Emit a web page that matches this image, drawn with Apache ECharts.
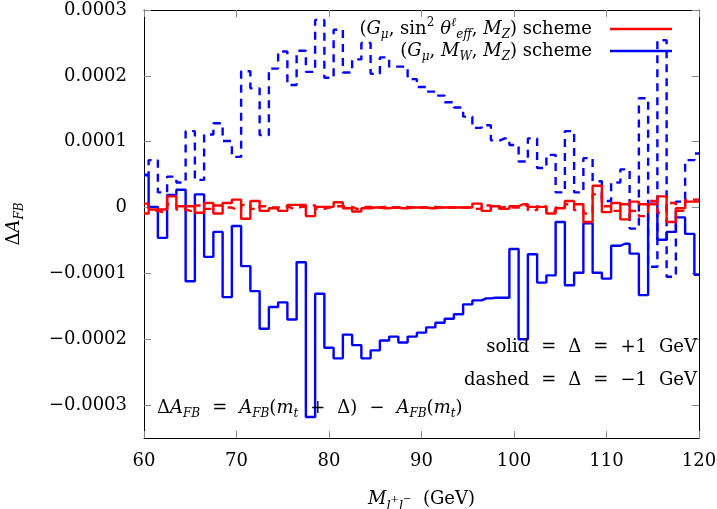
<!DOCTYPE html>
<html>
<head>
<meta charset="utf-8">
<script src="https://cdn.jsdelivr.net/npm/echarts@6/dist/echarts.min.js"></script>
<style>html,body{margin:0;padding:0;background:#fff}#c{width:717px;height:509px}</style>
</head>
<body>
<div id="c"></div>
<script>
// bin centres (GeV); bins are 1 GeV wide
const binCenters = [60,61,62,63,64,65,66,67,68,69,70,71,72,73,74,75,76,77,78,79,80,81,82,83,84,85,86,87,88,89,90,91,92,93,94,95,96,97,98,99,100,101,102,103,104,105,106,107,108,109,110,111,112,113,114,115,116,117,118,119,120];

// (G_mu, M_W, M_Z) scheme, Delta = +1 GeV (blue solid)
const blueSolid = [0.49e-4,0.01e-4,-0.46e-4,0.19e-4,0.27e-4,-1.12e-4,0.20e-4,-0.75e-4,-0.37e-4,-1.36e-4,-0.28e-4,-0.89e-4,-1.27e-4,-1.84e-4,-1.51e-4,-1.44e-4,-1.70e-4,-0.83e-4,-3.18e-4,-1.31e-4,-2.13e-4,-2.29e-4,-1.93e-4,-2.09e-4,-2.29e-4,-2.17e-4,-2.02e-4,-1.96e-4,-2.05e-4,-1.96e-4,-1.90e-4,-1.82e-4,-1.75e-4,-1.69e-4,-1.62e-4,-1.47e-4,-1.41e-4,-1.38e-4,-1.37e-4,-1.37e-4,-0.63e-4,-2.00e-4,-0.71e-4,-1.14e-4,-1.03e-4,-0.22e-4,-1.18e-4,-0.99e-4,-0.24e-4,-0.99e-4,-1.08e-4,-0.58e-4,-0.55e-4,-0.70e-4,-1.33e-4,0.06e-4,-0.49e-4,-0.37e-4,-0.15e-4,-0.40e-4,-1.02e-4];

// (G_mu, M_W, M_Z) scheme, Delta = -1 GeV (blue dashed)
const blueDashed = [0.50e-4,0.72e-4,0.23e-4,0.47e-4,0.38e-4,1.16e-4,0.42e-4,1.11e-4,1.28e-4,1.01e-4,0.77e-4,2.07e-4,1.81e-4,1.10e-4,2.11e-4,2.37e-4,1.86e-4,2.38e-4,2.06e-4,2.85e-4,1.97e-4,2.70e-4,2.05e-4,2.25e-4,2.50e-4,2.03e-4,2.28e-4,2.14e-4,2.14e-4,1.95e-4,1.83e-4,1.76e-4,1.70e-4,1.60e-4,1.52e-4,1.38e-4,1.21e-4,1.25e-4,1.02e-4,1.05e-4,0.95e-4,0.70e-4,1.05e-4,0.60e-4,0.80e-4,0.23e-4,1.16e-4,0.23e-4,0.75e-4,0.40e-4,0.10e-4,0.38e-4,0.58e-4,-0.32e-4,1.66e-4,-0.90e-4,2.54e-4,-1.05e-4,0.09e-4,0.72e-4,0.82e-4];

// (G_mu, sin^2 theta_eff, M_Z) scheme, Delta = +1 GeV (red solid)
const redSolid = [0.06e-4,-0.03e-4,-0.03e-4,0.17e-4,0.02e-4,0.02e-4,-0.08e-4,0.07e-4,-0.09e-4,0.07e-4,0.12e-4,-0.17e-4,0.10e-4,-0.05e-4,-0.01e-4,-0.05e-4,0.04e-4,0.04e-4,-0.13e-4,0.01e-4,0.01e-4,0.08e-4,-0.01e-4,-0.06e-4,-0.01e-4,0.00e-4,-0.01e-4,0.00e-4,-0.01e-4,0.00e-4,0.00e-4,-0.01e-4,0.00e-4,0.00e-4,0.00e-4,0.00e-4,0.06e-4,-0.05e-4,0.02e-4,-0.02e-4,0.02e-4,0.05e-4,0.01e-4,0.01e-4,-0.09e-4,-0.01e-4,0.10e-4,0.05e-4,-0.22e-4,0.33e-4,-0.07e-4,0.07e-4,-0.18e-4,0.09e-4,0.05e-4,0.05e-4,0.17e-4,-0.22e-4,-0.01e-4,0.09e-4,0.09e-4];

// (G_mu, sin^2 theta_eff, M_Z) scheme, Delta = -1 GeV (red dashed)
const redDashed = [-0.09e-4,-0.05e-4,-0.07e-4,0.05e-4,-0.03e-4,-0.05e-4,0.03e-4,-0.02e-4,0.03e-4,0.00e-4,-0.03e-4,0.04e-4,-0.02e-4,0.02e-4,0.00e-4,0.02e-4,-0.01e-4,0.01e-4,0.03e-4,-0.02e-4,0.00e-4,0.02e-4,0.01e-4,-0.02e-4,0.01e-4,0.00e-4,0.01e-4,0.00e-4,0.01e-4,0.00e-4,0.00e-4,0.01e-4,0.00e-4,0.00e-4,0.00e-4,0.00e-4,-0.02e-4,0.03e-4,-0.01e-4,0.01e-4,0.00e-4,0.03e-4,-0.04e-4,0.02e-4,-0.06e-4,0.00e-4,0.05e-4,-0.04e-4,-0.09e-4,0.20e-4,0.02e-4,-0.05e-4,0.05e-4,-0.05e-4,-0.13e-4,0.10e-4,-0.08e-4,0.07e-4,-0.05e-4,0.12e-4,0.12e-4];

const xTicks = [60,70,80,90,100,110,120];
const yTickValues = [-0.0003,-0.0002,-0.0001,0,0.0001,0.0002,0.0003];
const yTickLabels = ['\u22120.0003','\u22120.0002','\u22120.0001','0','0.0001','0.0002','0.0003'];

const FONT = 'DejaVu Serif';
const FS = 18;
const SS = 12;

function pairs(vals){ return binCenters.map((x,i)=>[x, vals[i]]); }

const chart = echarts.init(document.getElementById('c'), null, {renderer:'canvas'});

function mkRich(lh){
  return {
    n:{fontFamily:FONT,fontSize:FS,color:'#000',lineHeight:lh,verticalAlign:'middle'},
    i:{fontFamily:FONT,fontSize:FS,fontStyle:'italic',color:'#000',lineHeight:lh,verticalAlign:'middle'},
    sub:{fontFamily:FONT,fontSize:SS,fontStyle:'italic',color:'#000',lineHeight:lh,verticalAlign:'bottom'},
    sup:{fontFamily:FONT,fontSize:SS,color:'#000',lineHeight:lh,verticalAlign:'top'},
    supi:{fontFamily:FONT,fontSize:SS,fontStyle:'italic',color:'#000',lineHeight:lh,verticalAlign:'top'},
    gap:{width:13,lineHeight:lh},
    sp:{width:6,lineHeight:lh},
    sw:{width:12,lineHeight:lh}
  };
}
const rich = mkRich(24);

function yLabel(v){
  const k = Math.round(v*1e4);
  const idx = yTickValues.findIndex(t=>Math.round(t*1e4)===k);
  return idx>=0 ? yTickLabels[idx] : '';
}

const option = {
  animation:false,
  backgroundColor:'#fff',
  grid:{left:144,right:18,top:10,bottom:71,containLabel:false,outerBoundsMode:'none'},
  legend:{
    data:['red','blue'],
    orient:'vertical',
    right:45, top:17, padding:0,
    align:'right',
    itemWidth:62, itemHeight:2.5, itemGap:1,
    icon:'rect',
    formatter:function(name){
      if(name==='red') return '{n|(}{i|G}{sub|\u03bc}{n|, sin}{sup|2}{sp|}{i|\u03b8}{supi|\u2113}{sub|eff}{n|, }{i|M}{sub|Z}{n|) scheme}{gap|}';
      return '{n|(}{i|G}{sub|\u03bc}{n|, }{i|M}{sub|W}{n|, }{i|M}{sub|Z}{n|) scheme}{gap|}';
    },
    textStyle:{rich:rich},
    selectedMode:false
  },
  xAxis:[{
    type:'value',min:60,max:120,interval:10,position:'bottom',
    axisLine:{show:true,onZero:false,lineStyle:{color:'#000',width:1}},
    axisTick:{show:true,inside:true,length:7,lineStyle:{color:'#888'}},
    axisLabel:{color:'#000',fontFamily:FONT,fontSize:FS,margin:14,
      formatter:function(v){return xTicks.indexOf(v)>=0?String(v):'';}},
    splitLine:{show:false},
    name:'{i|M}{sub|l}{supn|+}{sub|l}{supn|\u2212}{n|  (GeV)}',
    nameLocation:'middle',nameGap:47,
    nameTextStyle:{rich:Object.assign({},rich,{
      sub:{fontFamily:FONT,fontSize:13,fontStyle:'italic',color:'#000',lineHeight:28,verticalAlign:'bottom'},
      supn:{fontFamily:FONT,fontSize:10,color:'#000',lineHeight:28,verticalAlign:'middle'}
    })}
  },{
    type:'value',min:60,max:120,interval:10,position:'top',
    axisLine:{show:true,onZero:false,lineStyle:{color:'#000',width:1}},
    axisTick:{show:true,inside:true,length:7,lineStyle:{color:'#888'}},
    axisLabel:{show:false},splitLine:{show:false}
  }],
  yAxis:[{
    type:'value',min:-0.00035,max:0.0003,position:'left',
    axisLine:{show:true,onZero:false,lineStyle:{color:'#000',width:1}},
    axisTick:{show:true,inside:true,length:7,lineStyle:{color:'#888'},customValues:yTickValues},
    axisLabel:{color:'#000',fontFamily:FONT,fontSize:FS,margin:17,customValues:yTickValues,formatter:yLabel},
    splitLine:{show:false},
    name:'{n|\u0394}{i|A}{sub|FB}',
    nameLocation:'middle',nameGap:118,nameRotate:90,
    nameTextStyle:{rich:rich}
  },{
    type:'value',min:-0.00035,max:0.0003,position:'right',
    axisLine:{show:true,onZero:false,lineStyle:{color:'#000',width:1}},
    axisTick:{show:true,inside:true,length:7,lineStyle:{color:'#888'},customValues:yTickValues},
    axisLabel:{show:false},splitLine:{show:false}
  }],
  graphic:[
    {type:'text',right:20,top:338,z:100,style:{text:'{n|solid}{sw|}{n|=}{sw|}{n|\u0394}{sw|}{n|=}{sw|}{n|+1}{sw|}{n|GeV}',rich:rich,align:'right'}},
    {type:'text',right:20,top:371,z:100,style:{text:'{n|dashed}{sw|}{n|=}{sw|}{n|\u0394}{sw|}{n|=}{sw|}{n|\u22121}{sw|}{n|GeV}',rich:rich,align:'right'}},
    {type:'text',left:157,top:399,z:100,style:{text:'{n|\u0394}{i|A}{sub|FB}{sw|}{n|=}{sw|}{i|A}{sub|FB}{n|(}{i|m}{sub|t}{sw|}{n|+}{sw|}{n|\u0394)}{sw|}{n|\u2212}{sw|}{i|A}{sub|FB}{n|(}{i|m}{sub|t}{n|)}',rich:rich}}
  ],
  series:[
    {name:'red',type:'line',step:'middle',data:pairs(redSolid),symbol:'none',lineStyle:{color:'#ff0000',width:2.4},itemStyle:{color:'#ff0000'},z:3},
    {name:'redDashed',type:'line',step:'middle',data:pairs(redDashed),symbol:'none',lineStyle:{color:'#ff0000',width:2.4,type:[8,6]},itemStyle:{color:'#ff0000'},z:3},
    {name:'blue',type:'line',step:'middle',data:pairs(blueSolid),symbol:'none',lineStyle:{color:'#0000ff',width:2.4},itemStyle:{color:'#0000ff'},z:2},
    {name:'blueDashed',type:'line',step:'middle',data:pairs(blueDashed),symbol:'none',lineStyle:{color:'#0000ff',width:2.4,type:[8,6]},itemStyle:{color:'#0000ff'},z:2}
  ]
};
chart.setOption(option);
</script>
</body>
</html>
